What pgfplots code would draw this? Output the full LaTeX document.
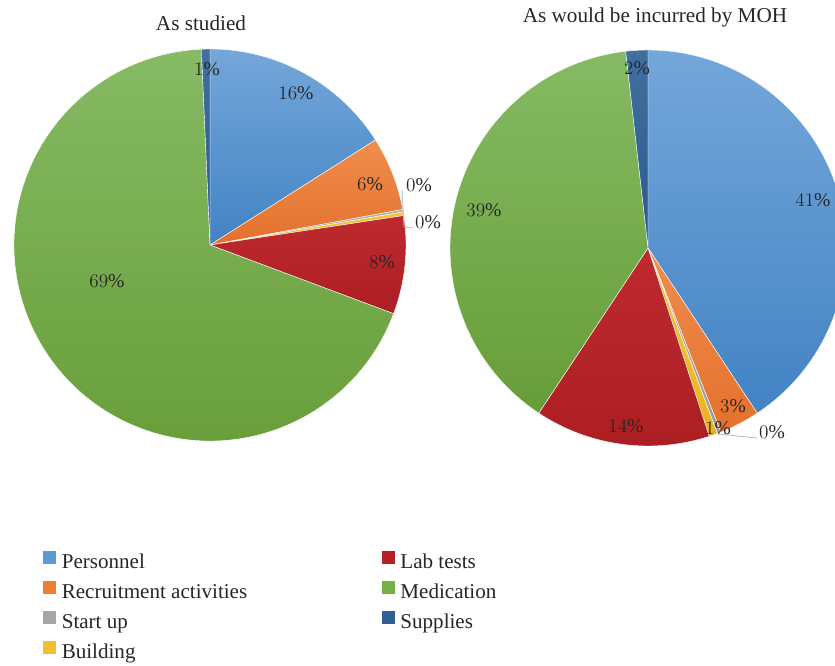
\documentclass[border=0pt]{standalone}
\usepackage{pgfplots}
\pgfplotsset{compat=1.18}
\usepackage{pgfplotstable}
\usepackage{fontspec}
\setmainfont{Liberation Serif}

\definecolor{s0top}{HTML}{74A7DA}\definecolor{s0bot}{HTML}{4283C4}
\definecolor{s1top}{HTML}{F08D4E}\definecolor{s1bot}{HTML}{E4712C}
\definecolor{s2top}{HTML}{AEAEAE}\definecolor{s2bot}{HTML}{9C9C9C}
\definecolor{s3top}{HTML}{F8C63A}\definecolor{s3bot}{HTML}{EBB21F}
\definecolor{s4top}{HTML}{BE2A2E}\definecolor{s4bot}{HTML}{AC1E23}
\definecolor{s5top}{HTML}{86BA64}\definecolor{s5bot}{HTML}{679D38}
\definecolor{s6top}{HTML}{41709F}\definecolor{s6bot}{HTML}{2A5A8F}
\definecolor{c0}{HTML}{5B9BD5}
\definecolor{c1}{HTML}{ED7D31}
\definecolor{c2}{HTML}{A5A5A5}
\definecolor{c3}{HTML}{F4BE2C}
\definecolor{c4}{HTML}{B52024}
\definecolor{c5}{HTML}{74AF4A}
\definecolor{c6}{HTML}{2F5F96}
\definecolor{leader}{HTML}{A9BCD0}
\definecolor{txt}{HTML}{262626}

\newcommand\lblfont{\fontsize{14.7}{16}\selectfont}
\newcommand\legfont{\fontsize{15.8}{17}\selectfont}
\newcommand\ttlfont{\fontsize{15.9}{18}\selectfont}

% values in percent; lx, ly = label position (pixels from top-left)
\pgfplotstableread{
item val lx ly
Personnel 16.0 296 93
Recruitment 6.1 370 184
StartUp 0.2 419 185
Building 0.3 428 222
LabTests 8.1 382 262
Medication 68.6 107 281
Supplies 0.7 207 69
}\studied

\pgfplotstableread{
item val lx ly
Personnel 40.7 813 200
Recruitment 3.3 733 406
StartUp 0.3 772 432
Building 0.7 718 428
LabTests 14.3 626 426
Medication 38.9 484 210
Supplies 1.8 637 68
}\moh

\newcommand\drawpie[4]{%
  \pgfmathsetmacro\cyy{665-#3}%
  \pgfmathsetmacro\rr{0.75*#4}%
  \xdef\pieangle{90}%
  \foreach \i in {0,...,6}{%
    \pgfplotstablegetelem{\i}{val}\of{#1}\let\pv\pgfplotsretval
    \pgfmathsetmacro\aend{\pieangle-3.6*\pv}%
    \path[top color=s\i top,bottom color=s\i bot,draw=white,line width=0.3pt,line join=round]
      (axis cs:#2,\cyy) -- ++(\pieangle:\rr pt) arc[start angle=\pieangle,end angle=\aend,radius=\rr pt] -- cycle;
    \xdef\pieangle{\aend}%
  }%
}
\newcommand\drawlabels[1]{%
  \foreach \i in {0,...,6}{%
    \pgfplotstablegetelem{\i}{val}\of{#1}\let\pv\pgfplotsretval
    \pgfplotstablegetelem{\i}{lx}\of{#1}\let\plx\pgfplotsretval
    \pgfplotstablegetelem{\i}{ly}\of{#1}\pgfmathsetmacro\ply{665-\pgfplotsretval}%
    \node[font=\lblfont,text=txt,inner sep=0pt] at (axis cs:\plx,\ply) {\pgfmathprintnumber[fixed,precision=0]{\pv}\%};
  }%
}

\pgfplotsset{sq/.style={legend image code/.code={\fill[##1,draw=none] (0pt,-0.6pt) rectangle (9.9pt,9.3pt);}}}

\begin{document}
\begin{tikzpicture}
\useasboundingbox (0,0) rectangle (626.25pt,498.75pt);
\begin{axis}[
  x=0.75pt,y=0.75pt,
  xmin=0,xmax=835,ymin=0,ymax=665,
  enlargelimits=false,
  hide axis,
  clip=true,
  legend columns=2,
  legend cell align=left,
  legend style={at={(0.0515,0.172)},anchor=north west,draw=none,fill=none,
    inner sep=0pt,font=\legfont,text=txt,row sep=6.0pt,
    nodes={inner sep=0pt,text height=11pt,text depth=3.5pt},
    /tikz/every odd column/.append style={column sep=4pt},
    /tikz/every even column/.append style={column sep=101pt}},
]
\addlegendimage{sq,fill=c0}\addlegendentry{Personnel}
\addlegendimage{sq,fill=c4}\addlegendentry{Lab tests}
\addlegendimage{sq,fill=c1}\addlegendentry{Recruitment activities}
\addlegendimage{sq,fill=c5}\addlegendentry{Medication}
\addlegendimage{sq,fill=c2}\addlegendentry{Start up}
\addlegendimage{sq,fill=c6}\addlegendentry{Supplies}
\addlegendimage{sq,fill=c3}\addlegendentry{Building}

\pgfplotsextra{%
  \drawpie{\studied}{210}{245}{196}%
  \drawpie{\moh}{648}{248}{198}%
  \draw[leader,line width=0.6pt] (axis cs:402,475) -- (axis cs:404,438) -- (axis cs:413,437);
  \draw[leader,line width=0.6pt] (axis cs:718,231) -- (axis cs:757,227);
  \drawlabels{\studied}%
  \drawlabels{\moh}%
  \node[font=\ttlfont,text=txt,anchor=base] at (axis cs:201,634) {As studied};
  \node[font=\ttlfont,text=txt,anchor=base] at (axis cs:655,642) {As would be incurred by MOH};
}
\end{axis}
\end{tikzpicture}
\end{document}
